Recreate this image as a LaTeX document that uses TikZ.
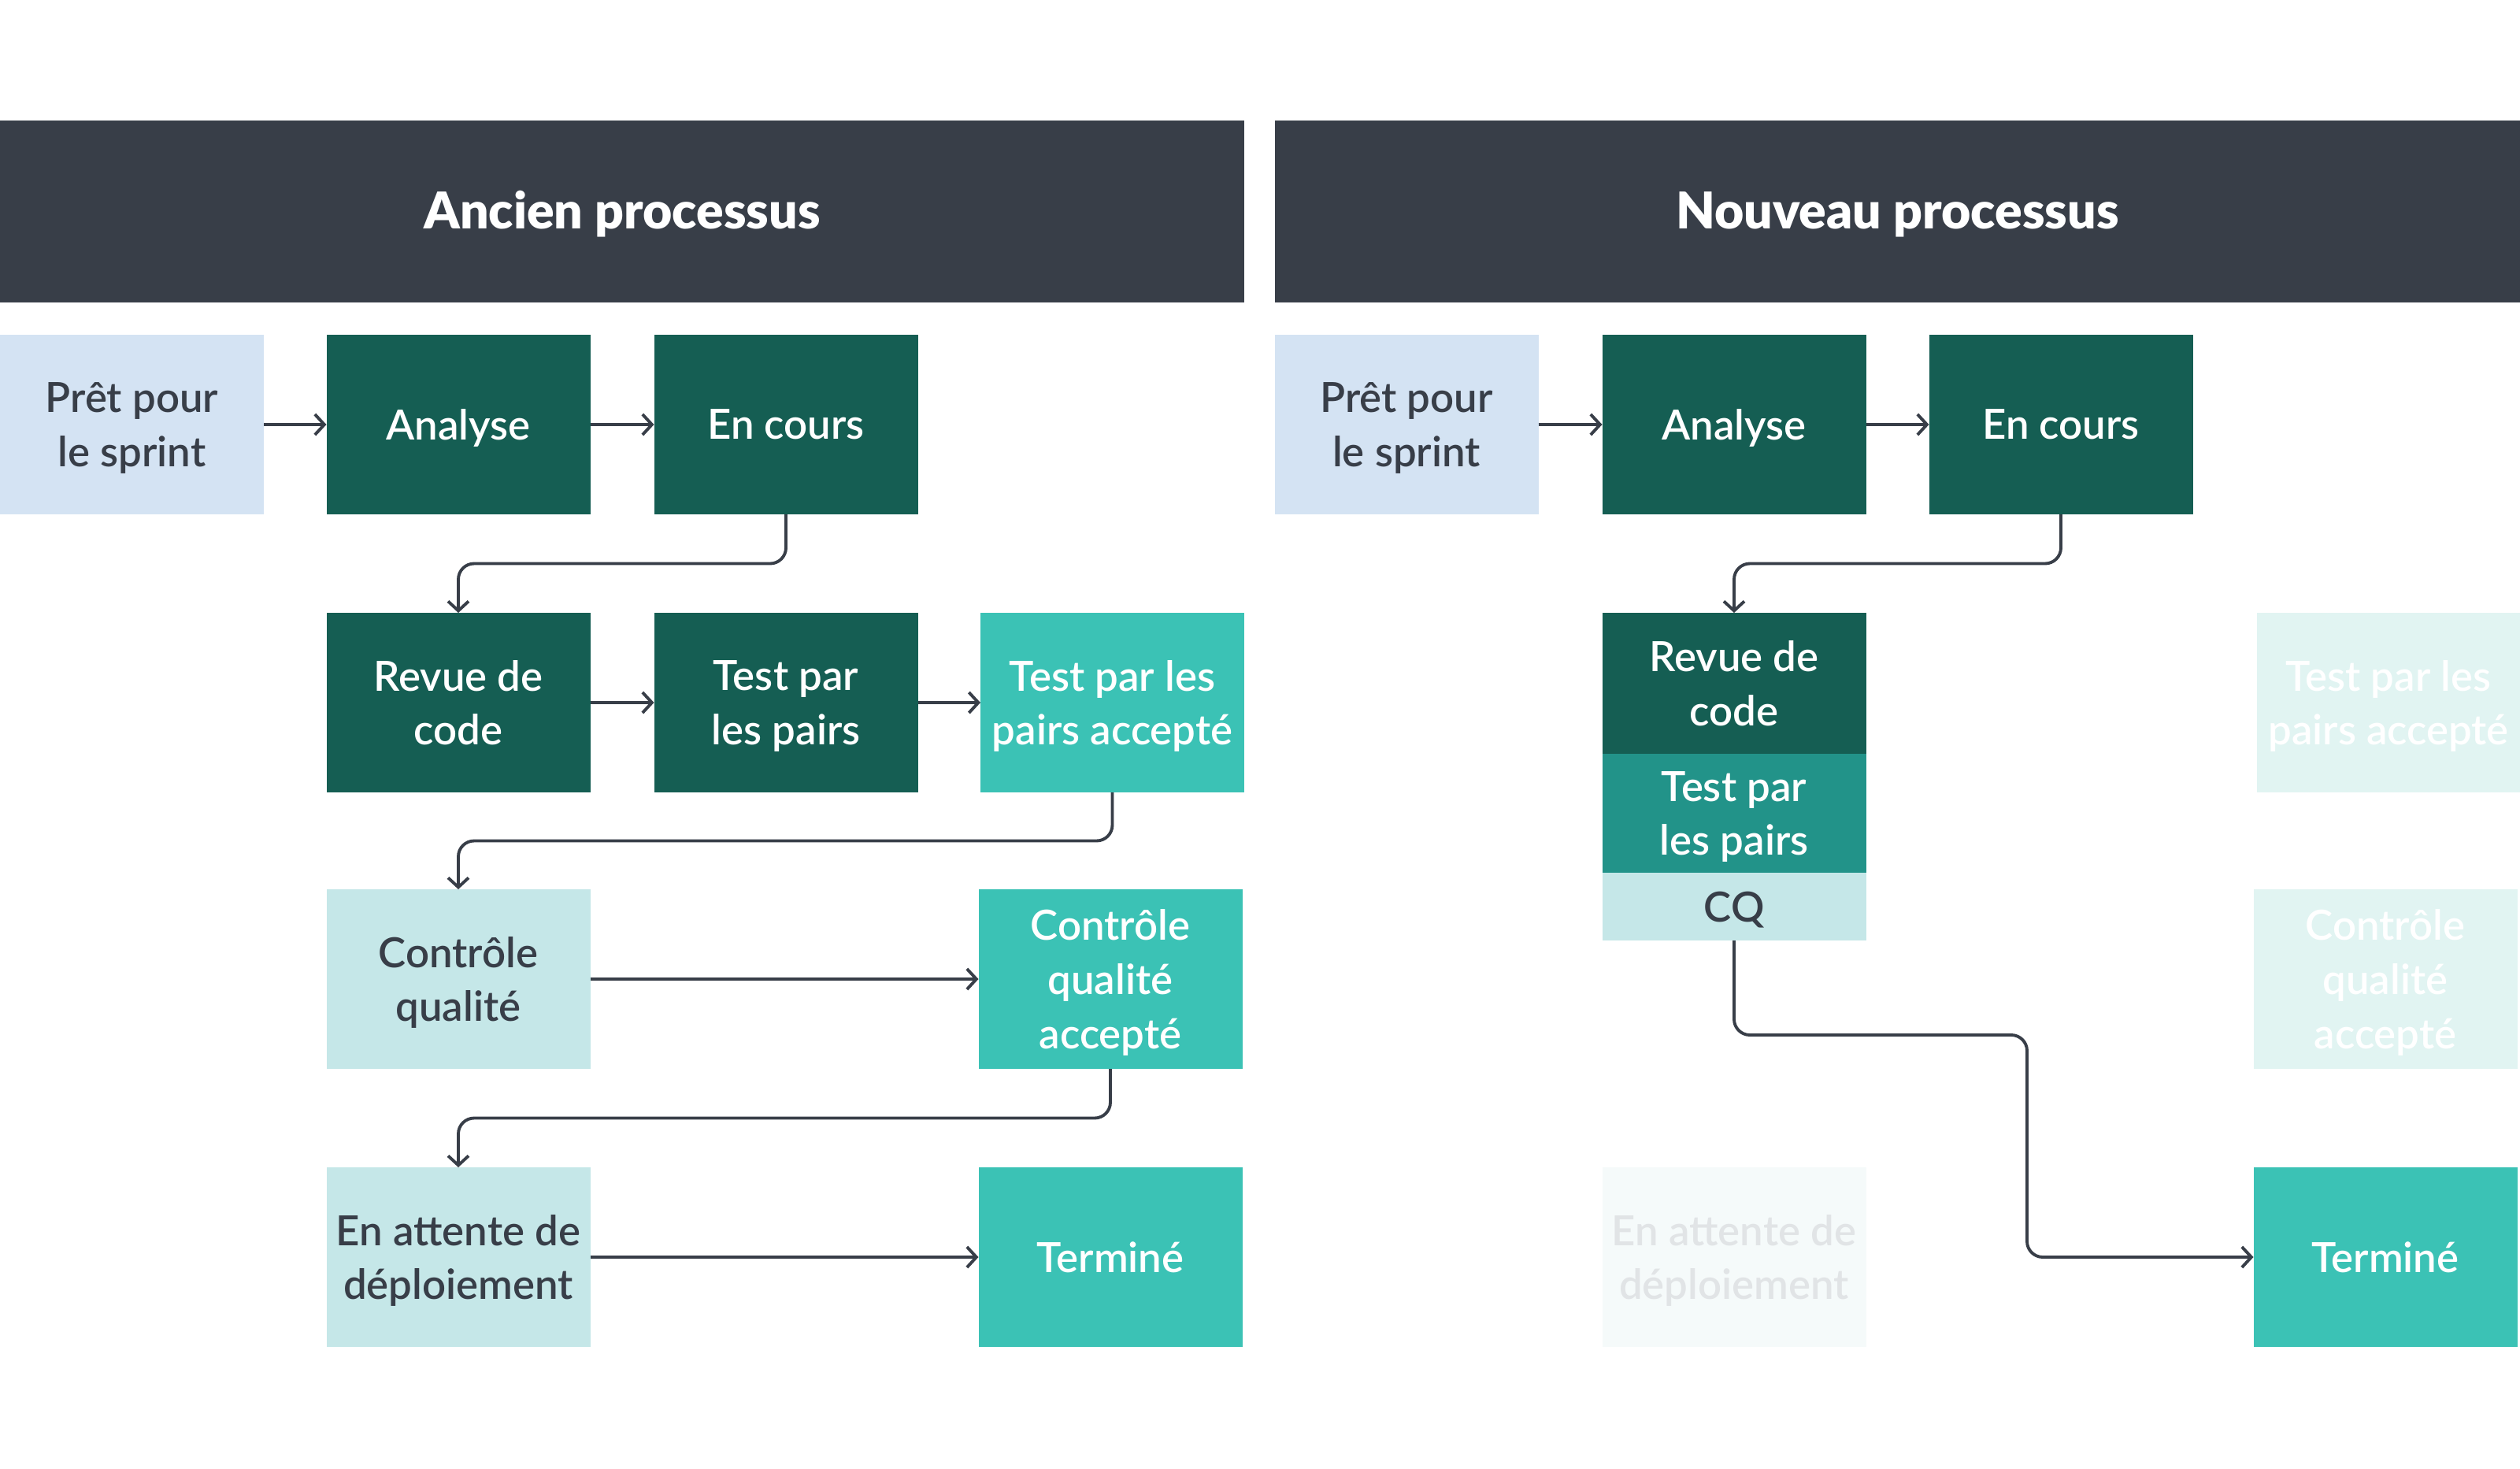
\documentclass[tikz,border=0pt]{standalone}
\usepackage{fontspec}
\setmainfont{Lato}
\newfontfamily\boxfont{Lato Semibold}
\newfontfamily\headfont{Lato Black}
\usetikzlibrary{calc,arrows.meta}
\definecolor{slate}{HTML}{383E48}
\definecolor{pine}{HTML}{155E53}
\definecolor{sea}{HTML}{229389}
\definecolor{lagoon}{HTML}{3BC2B5}
\definecolor{sky}{HTML}{D4E3F3}
\definecolor{mist}{HTML}{C5E7E8}
\definecolor{foam}{HTML}{E1F4F2}
\definecolor{haze}{HTML}{F5FAFA}
\definecolor{ghost}{HTML}{E1E4E6}
\tikzset{
  box/.style={minimum width=3.35cm, minimum height=2.28cm, inner sep=0pt, outer sep=0pt, align=center, text depth=0pt, font=\fontsize{15}{19.5}\selectfont\boxfont},
  header/.style={fill=slate, text=white, minimum height=2.31cm, inner sep=0pt, outer sep=0pt, font=\fontsize{18.3}{22}\selectfont\headfont, execute at begin node={\rule{0pt}{16pt}}},
  skybox/.style={box, fill=sky, text=slate},
  pinebox/.style={box, fill=pine, text=white},
  lagoonbox/.style={box, fill=lagoon, text=white},
  mistbox/.style={box, fill=mist, text=slate},
  foambox/.style={box, fill=foam, text=white},
  hazebox/.style={box, fill=haze, text=ghost},
  flow/.style={draw=slate, line width=1.1pt, rounded corners=0.2cm, -{Straight Barb[length=1.2mm,width=2.6mm]}},
}
\begin{document}
\begin{tikzpicture}
			%%%%% START %%%%%
			\useasboundingbox[fill=white] (0,0) rectangle (32,-18.64);
			
			\node[header, minimum width=15.8cm] (oldhead) at (7.9,-2.68) {Ancien processus};
			\node[header, minimum width=15.81cm] (newhead) at (24.095,-2.68) {Nouveau processus};
			
			% ancien processus
			\node[skybox] (pret) at (1.675,-5.39) {Prêt pour\\le sprint};
			\node[pinebox] (analyse) at (5.82,-5.39) {Analyse};
			\node[pinebox] (encours) at (9.98,-5.39) {En cours};
			
			\node[pinebox] (revue) at (5.82,-8.92) {Revue de\\code};
			\node[pinebox] (pairs) at (9.98,-8.92) {Test par\\les pairs};
			\node[lagoonbox] (pairsok) at (14.125,-8.92) {Test par les\\pairs accepté};
			
			\node[mistbox] (qualite) at (5.82,-12.43) {Contrôle\\qualité};
			\node[lagoonbox] (qualiteok) at (14.1,-12.43) {Contrôle\\qualité\\accepté};
			
			\node[mistbox] (attente) at (5.82,-15.96) {En attente de\\déploiement};
			\node[lagoonbox] (termine) at (14.1,-15.96) {Terminé};
			
			\draw[flow] (pret) -- (analyse);
			\draw[flow] (analyse) -- (encours);
			\draw[flow] (encours.south) |- ($(encours.south)!0.5!(revue.north)$) -| (revue.north);
			\draw[flow] (revue) -- (pairs);
			\draw[flow] (pairs) -- (pairsok);
			\draw[flow] (pairsok.south) |- ($(pairsok.south)!0.5!(qualite.north)$) -| (qualite.north);
			\draw[flow] (qualite) -- (qualiteok);
			\draw[flow] (qualiteok.south) |- ($(qualiteok.south)!0.5!(attente.north)$) -| (attente.north);
			\draw[flow] (attente) -- (termine);
			
			% nouveau processus
			\node[skybox] (pret2) at (17.86,-5.39) {Prêt pour\\le sprint};
			\node[pinebox] (analyse2) at (22.02,-5.39) {Analyse};
			\node[pinebox] (encours2) at (26.17,-5.39) {En cours};
			
			\node[pinebox, minimum height=1.79cm] (revue2) at (22.02,-8.675) {Revue de\\code};
			\node[box, fill=sea, text=white, minimum height=1.51cm] (pairs2) at (22.02,-10.325) {Test par\\les pairs};
			\node[mistbox, minimum height=0.86cm] (qualite2) at (22.02,-11.51) {CQ};
			
			\node[foambox] (pairsok2) at (30.33,-8.92) {Test par les\\pairs accepté};
			\node[foambox] (qualiteok2) at (30.29,-12.43) {Contrôle\\qualité\\accepté};
			\node[hazebox] (attente2) at (22.02,-15.96) {En attente de\\déploiement};
			\node[lagoonbox] (termine2) at (30.29,-15.96) {Terminé};
			
			\draw[flow] (pret2) -- (analyse2);
			\draw[flow] (analyse2) -- (encours2);
			\draw[flow] (encours2.south) |- ($(encours2.south)!0.5!(revue2.north)$) -| (revue2.north);
			\draw[flow] (qualite2.south) |- ++(3.72,-1.2) |- (termine2.west);
			%%%%% END %%%%%
\end{tikzpicture}
\end{document}
